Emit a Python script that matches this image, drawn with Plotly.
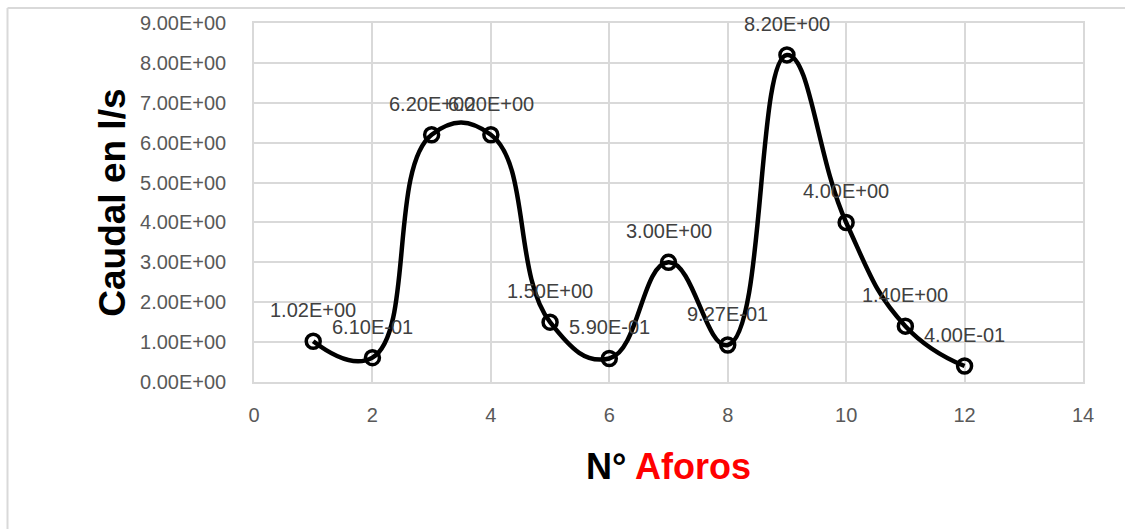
import plotly.graph_objects as go

aforos = [1, 2, 3, 4, 5, 6, 7, 8, 9, 10, 11, 12]
caudal = [1.02, 0.61, 6.2, 6.2, 1.5, 0.59, 3.0, 0.927, 8.2, 4.0, 1.4, 0.4]
y_ticks = [0, 1, 2, 3, 4, 5, 6, 7, 8, 9]
x_ticks = [0, 2, 4, 6, 8, 10, 12, 14]

FONT = "Liberation Sans, Arial, sans-serif"
GRID = "#d9d9d9"
TXT = "#595959"

fig = go.Figure()
fig.add_trace(go.Scatter(
    x=aforos, y=caudal, mode="lines+markers",
    line=dict(color="black", width=4.5, shape="spline", smoothing=1.3),
    marker=dict(symbol="circle-open", size=14, color="black", line=dict(width=3.5, color="black")),
    showlegend=False, hoverinfo="skip",
))

annotations = []
for xv, yv in zip(aforos, caudal):
    annotations.append(dict(x=xv, y=yv, xref="x", yref="y", text=f"{yv:.2E}",
                            showarrow=False, yshift=31,
                            font=dict(family=FONT, size=20, color="#404040")))

annotations.append(dict(x=0.5, y=-0.235, xref="paper", yref="paper", showarrow=False,
                        text="<b>N° <span style='color:#ff0000'>Aforos</span></b>",
                        font=dict(family=FONT, size=36, color="black"),
                        xanchor="center", yanchor="middle"))
annotations.append(dict(x=-0.171, y=0.5, xref="paper", yref="paper", showarrow=False,
                        text="<b>Caudal en l/s</b>", textangle=-90,
                        font=dict(family=FONT, size=37, color="black"),
                        xanchor="center", yanchor="middle"))

L, R, T, B = 254, 42, 23, 147
pw = 1125 - L - R
ph = 529 - T - B
bx = (7.5 - L) / pw
by = (ph + T - 8) / ph  # top border at y=8px

shapes = [
    dict(type="line", xref="paper", yref="paper", x0=bx, x1=1.2, y0=by, y1=by,
         line=dict(color=GRID, width=2)),
    dict(type="line", xref="paper", yref="paper", x0=bx, x1=bx, y0=by, y1=-0.6,
         line=dict(color=GRID, width=2)),
]

fig.update_layout(
    width=1125, height=529,
    margin=dict(l=L, r=R, t=T, b=B),
    paper_bgcolor="white", plot_bgcolor="white",
    annotations=annotations, shapes=shapes,
    xaxis=dict(range=[0, 14], tickvals=x_ticks, ticktext=[str(v) for v in x_ticks],
               showgrid=True, gridcolor=GRID, gridwidth=1.5,
               showline=True, linecolor=GRID, linewidth=1.5, mirror=True,
               zeroline=False, ticks="", ticklabelstandoff=14,
               tickfont=dict(family=FONT, size=20, color=TXT)),
    yaxis=dict(range=[0, 9], tickvals=y_ticks, ticktext=[f"{v:.2E}" for v in y_ticks],
               showgrid=True, gridcolor=GRID, gridwidth=1.5,
               showline=True, linecolor=GRID, linewidth=1.5, mirror=True,
               zeroline=False, ticks="", ticklabelstandoff=22,
               tickfont=dict(family=FONT, size=20, color=TXT)),
)

fig.write_html("out.html")
